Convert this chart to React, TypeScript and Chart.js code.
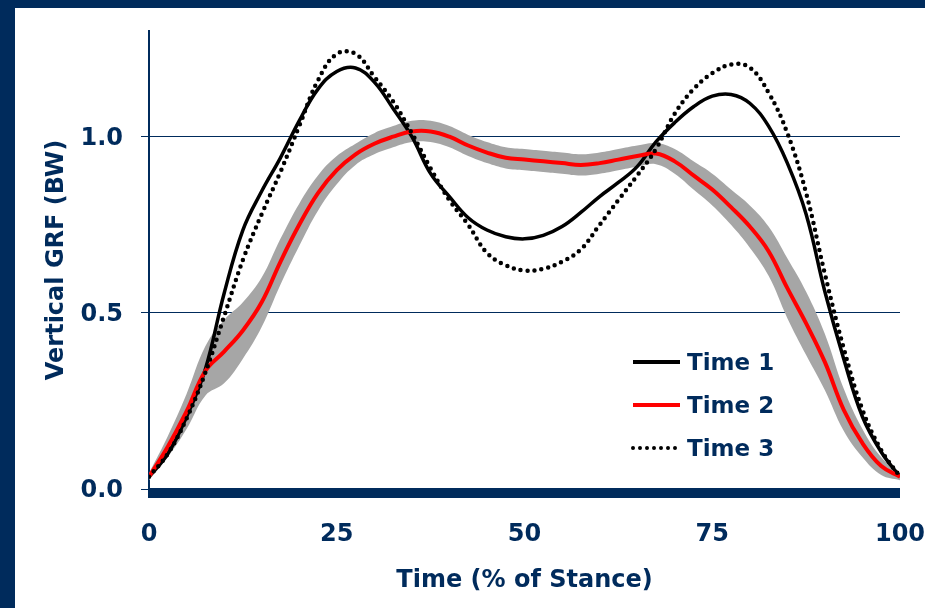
import { useEffect, useRef } from "react";
import { Chart, registerables } from "chart.js";

Chart.register(...registerables);

const NAVY = "#002B5C";
const FONT_FAMILY = "'DejaVu Sans', 'Liberation Sans', Arial, sans-serif";

// % of stance
const stance = [0, 2.5, 5, 7.5, 10, 12.5, 15, 17.5, 20, 22.5, 25, 27.5, 30, 32.5, 35, 37.5, 40, 42.5, 45, 47.5, 50, 52.5, 55, 57.5, 60, 62.5, 65, 67.5, 70, 72.5, 75, 77.5, 80, 82.5, 85, 87.5, 90, 92.5, 95, 97.5, 100];

const time1 = [0.035, 0.10, 0.205, 0.34, 0.555, 0.735, 0.845, 0.94, 1.045, 1.135, 1.185, 1.195, 1.155, 1.08, 1.0, 0.895, 0.83, 0.77, 0.735, 0.716, 0.71, 0.72, 0.745, 0.785, 0.83, 0.87, 0.915, 0.985, 1.04, 1.085, 1.115, 1.12, 1.095, 1.03, 0.925, 0.78, 0.56, 0.37, 0.205, 0.105, 0.035];

const time2 = [0.035, 0.12, 0.22, 0.335, 0.39, 0.45, 0.53, 0.645, 0.75, 0.84, 0.905, 0.95, 0.98, 1.0, 1.015, 1.015, 1.0, 0.975, 0.955, 0.94, 0.935, 0.93, 0.925, 0.92, 0.925, 0.935, 0.945, 0.952, 0.93, 0.89, 0.85, 0.80, 0.745, 0.675, 0.57, 0.47, 0.36, 0.225, 0.13, 0.065, 0.035];

const time2Upper = [0.045, 0.15, 0.27, 0.405, 0.48, 0.53, 0.60, 0.71, 0.81, 0.89, 0.945, 0.98, 1.01, 1.03, 1.045, 1.045, 1.03, 1.005, 0.985, 0.97, 0.965, 0.96, 0.955, 0.95, 0.955, 0.965, 0.975, 0.982, 0.965, 0.93, 0.895, 0.85, 0.805, 0.745, 0.655, 0.56, 0.44, 0.285, 0.17, 0.09, 0.045];

const time2Lower = [0.025, 0.09, 0.17, 0.265, 0.30, 0.37, 0.46, 0.58, 0.69, 0.79, 0.865, 0.92, 0.95, 0.97, 0.985, 0.985, 0.97, 0.945, 0.925, 0.91, 0.905, 0.90, 0.895, 0.89, 0.895, 0.905, 0.915, 0.922, 0.895, 0.85, 0.805, 0.75, 0.685, 0.605, 0.485, 0.38, 0.28, 0.165, 0.09, 0.04, 0.025];

const time3 = [0.035, 0.10, 0.20, 0.33, 0.49, 0.65, 0.78, 0.90, 1.03, 1.16, 1.235, 1.235, 1.17, 1.10, 1.01, 0.91, 0.82, 0.75, 0.67, 0.635, 0.62, 0.625, 0.645, 0.68, 0.75, 0.82, 0.89, 0.965, 1.065, 1.135, 1.18, 1.205, 1.196, 1.125, 1.01, 0.84, 0.61, 0.40, 0.225, 0.11, 0.035];

const xTicks = [0, 25, 50, 75, 100];
const yTicks = [0, 0.5, 1.0];
const legendLabels = ["Time 1", "Time 2", "Time 3"];

const toPoints = (arr: number[]) => stance.map((x, i) => ({ x, y: arr[i] }));

const baselineBar = {
  id: "baselineBar",
  beforeDatasetsDraw(chart: any) {
    const { ctx, chartArea, scales } = chart;
    const y0 = scales.y.getPixelForValue(0);
    ctx.save();
    ctx.fillStyle = NAVY;
    ctx.fillRect(chartArea.left - 1, y0 - 1, chartArea.right - chartArea.left + 1, 10);
    ctx.restore();
  },
};

const insideLegend = {
  id: "insideLegend",
  afterDatasetsDraw(chart: any) {
    const { ctx } = chart;
    const items = chart.data.datasets.filter((d: any) => legendLabels.includes(d.label));
    items.sort((a: any, b: any) => legendLabels.indexOf(a.label) - legendLabels.indexOf(b.label));
    const x0 = 618;
    const lineLen = 47;
    const rows = [354, 397, 440];
    ctx.save();
    items.forEach((d: any, i: number) => {
      const y = rows[i];
      ctx.beginPath();
      ctx.strokeStyle = d.borderColor;
      ctx.lineWidth = 4;
      ctx.lineCap = d.borderDash ? "round" : "butt";
      ctx.setLineDash(d.borderDash || []);
      ctx.moveTo(x0, y);
      ctx.lineTo(x0 + lineLen, y);
      ctx.stroke();
      ctx.setLineDash([]);
      ctx.fillStyle = NAVY;
      ctx.font = `bold 23px ${FONT_FAMILY}`;
      ctx.textAlign = "left";
      ctx.textBaseline = "middle";
      ctx.fillText(d.label, x0 + lineLen + 7, y + 2);
    });
    ctx.restore();
  },
};

export default function App() {
  const canvasRef = useRef<HTMLCanvasElement | null>(null);

  useEffect(() => {
    if (!canvasRef.current) return;
    const chart = new Chart(canvasRef.current, {
      type: "line",
      data: {
        datasets: [
          {
            label: "Time 2 SD lower",
            data: toPoints(time2Lower),
            borderWidth: 0,
            borderColor: "rgba(0,0,0,0)",
            pointRadius: 0,
            fill: false,
            tension: 0.4,
            order: 5,
          },
          {
            label: "Time 2 SD upper",
            data: toPoints(time2Upper),
            borderWidth: 0,
            borderColor: "rgba(0,0,0,0)",
            backgroundColor: "#A6A6A6",
            pointRadius: 0,
            fill: "-1",
            tension: 0.4,
            order: 4,
          },
          {
            label: "Time 1",
            data: toPoints(time1),
            borderColor: "#000000",
            borderWidth: 3.5,
            pointRadius: 0,
            fill: false,
            tension: 0.4,
            order: 3,
          },
          {
            label: "Time 2",
            data: toPoints(time2),
            borderColor: "#FF0000",
            borderWidth: 4,
            pointRadius: 0,
            fill: false,
            tension: 0.4,
            order: 2,
          },
          {
            label: "Time 3",
            data: toPoints(time3),
            borderColor: "#000000",
            borderWidth: 4.5,
            borderDash: [0, 7],
            borderCapStyle: "round",
            pointRadius: 0,
            fill: false,
            tension: 0.4,
            order: 1,
          },
        ] as any,
      },
      options: {
        animation: false,
        responsive: false,
        maintainAspectRatio: false,
        devicePixelRatio: 1,
        layout: { padding: { top: 23, right: 25, left: 0, bottom: 0 } },
        plugins: {
          legend: { display: false },
          tooltip: { enabled: false },
        },
        scales: {
          x: {
            type: "linear",
            min: 0,
            max: 100,
            afterBuildTicks: (s: any) => {
              s.ticks = xTicks.map((v) => ({ value: v }));
            },
            afterFit: (s: any) => {
              s.height = 119;
              s.paddingLeft = 0;
              s.paddingRight = 0;
            },
            grid: { display: false, drawTicks: false },
            border: { display: false },
            ticks: {
              autoSkip: false,
              maxRotation: 0,
              padding: 31,
              color: NAVY,
              font: { family: FONT_FAMILY, size: 24, weight: "bold" },
              callback: (v: any) => String(v),
            },
            title: {
              display: true,
              text: "Time (% of Stance)",
              color: NAVY,
              font: { family: FONT_FAMILY, size: 24, weight: "bold" },
              padding: { top: 0, bottom: 13 },
            },
          },
          y: {
            type: "linear",
            min: 0,
            max: 1.3,
            afterBuildTicks: (s: any) => {
              s.ticks = yTicks.map((v) => ({ value: v }));
            },
            afterFit: (s: any) => {
              s.width = 134;
              s.paddingTop = 0;
              s.paddingBottom = 0;
            },
            grid: {
              display: true,
              color: NAVY,
              lineWidth: 1,
              drawTicks: true,
              tickLength: 8,
              tickColor: NAVY,
            },
            border: { display: true, color: NAVY, width: 2 },
            ticks: {
              padding: 18,
              labelOffset: 2,
              color: NAVY,
              font: { family: FONT_FAMILY, size: 24, weight: "bold" },
              callback: (v: any) => Number(v).toFixed(1),
            },
            title: {
              display: true,
              text: "Vertical GRF (BW)",
              color: NAVY,
              font: { family: FONT_FAMILY, size: 24, weight: "bold" },
              padding: { top: 27, bottom: 0 },
            },
          },
        },
      } as any,
      plugins: [baselineBar, insideLegend],
    });
    return () => chart.destroy();
  }, []);

  return (
    <div style={{ position: "absolute", left: 0, top: 0, width: 925, height: 608, background: NAVY, overflow: "hidden" }}>
      <div style={{ position: "absolute", left: 15, top: 8, width: 910, height: 600, background: "#FFFFFF" }}>
        <canvas ref={canvasRef} width={910} height={600} style={{ display: "block", width: 910, height: 600 }} />
      </div>
    </div>
  );
}
